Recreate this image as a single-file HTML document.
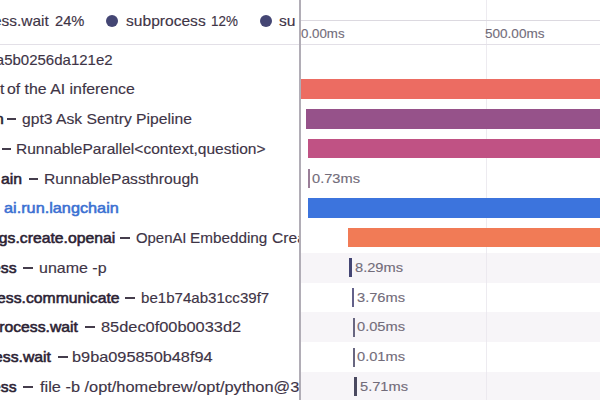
<!DOCTYPE html>
<html><head><meta charset="utf-8">
<style>
html,body{margin:0;padding:0;}
body{width:600px;height:400px;overflow:hidden;background:#fff;position:relative;font-family:"Liberation Sans",sans-serif;}
.a{position:absolute;}
.t{position:absolute;white-space:nowrap;transform-origin:0 50%;}
#left{position:absolute;left:0;top:0;width:299.4px;height:400px;overflow:hidden;}
#leg{position:absolute;left:0;top:0;width:296px;height:44px;overflow:hidden;}
.dash{position:absolute;height:2px;background:#453d4c;}
.bar{position:absolute;height:19.4px;}
.tick{position:absolute;height:19.3px;}
.band{position:absolute;left:301px;width:299px;height:29.75px;background:#f7f5f8;}
</style></head><body>
<div id="left">
<div id="leg">
<div class="t" style="left:-61.93px;top:6.30px;height:29.75px;line-height:29.75px;transform:scaleX(1.0300);font-size:15px;color:#3e3446;-webkit-text-stroke:0.15px #3e3446">subprocess.wait</div>
<div class="t" style="left:55.06px;top:6.30px;height:29.75px;line-height:29.75px;transform:scaleX(0.9809);font-size:15px;color:#3e3446;-webkit-text-stroke:0.15px #3e3446">24%</div>
<div class="t" style="left:125.78px;top:6.30px;height:29.75px;line-height:29.75px;transform:scaleX(1.0389);font-size:15px;color:#3e3446;-webkit-text-stroke:0.15px #3e3446">subprocess</div>
<div class="t" style="left:211.11px;top:6.30px;height:29.75px;line-height:29.75px;transform:scaleX(0.8947);font-size:15px;color:#3e3446;-webkit-text-stroke:0.15px #3e3446">12%</div>
<div class="t" style="left:279.48px;top:6.30px;height:29.75px;line-height:29.75px;transform:scaleX(1.0400);font-size:15px;color:#3e3446;-webkit-text-stroke:0.15px #3e3446">subprocess</div>
<div class="a" style="left:106px;top:14.9px;width:12.4px;height:12.4px;border-radius:50%;background:#444674"></div>
<div class="a" style="left:259.5px;top:14.9px;width:12.4px;height:12.4px;border-radius:50%;background:#444674"></div>
</div>
<div class="a" style="left:0;top:44px;width:300px;height:1px;background:#e3e0e7"></div>
<div class="t" style="left:-86.75px;top:44.50px;height:29.75px;line-height:29.75px;transform:scaleX(1.0000);font-size:15px;color:#3e3446;-webkit-text-stroke:0.15px #3e3446">trace 4c1e9fa5b0256da121e2</div>
<div class="t" style="left:0.08px;top:74.25px;height:29.75px;line-height:29.75px;transform:scaleX(1.0400);font-size:15px;color:#3e3446;-webkit-text-stroke:0.15px #3e3446">t</div>
<div class="t" style="left:7.47px;top:74.25px;height:29.75px;line-height:29.75px;transform:scaleX(1.0564);font-size:15px;color:#3e3446;-webkit-text-stroke:0.15px #3e3446">of the AI inference</div>
<div class="t" style="left:-138.81px;top:104.00px;height:29.75px;line-height:29.75px;transform:scaleX(1.0500);font-size:15px;color:#2b2233;-webkit-text-stroke:0.55px #2b2233">ai.pipeline.langchain</div>
<div class="t" style="left:21.98px;top:104.00px;height:29.75px;line-height:29.75px;transform:scaleX(1.0446);font-size:15px;color:#3e3446;-webkit-text-stroke:0.15px #3e3446">gpt3 Ask Sentry Pipeline</div>
<div class="t" style="left:16.21px;top:133.75px;height:29.75px;line-height:29.75px;transform:scaleX(1.0356);font-size:15px;color:#3e3446;-webkit-text-stroke:0.15px #3e3446">RunnableParallel&lt;context,question&gt;</div>
<div class="t" style="left:1.49px;top:163.50px;height:29.75px;line-height:29.75px;transform:scaleX(1.0500);font-size:15px;color:#2b2233;-webkit-text-stroke:0.55px #2b2233">ain</div>
<div class="t" style="left:43.70px;top:163.50px;height:29.75px;line-height:29.75px;transform:scaleX(1.0427);font-size:15px;color:#3e3446;-webkit-text-stroke:0.15px #3e3446">RunnablePassthrough</div>
<div class="t" style="left:3.66px;top:193.25px;height:29.75px;line-height:29.75px;transform:scaleX(1.0842);font-size:15px;color:#3b70d2;-webkit-text-stroke:0.55px #3b70d2">ai.run.langchain</div>
<div class="t" style="left:-87.40px;top:223.00px;height:29.75px;line-height:29.75px;transform:scaleX(1.0500);font-size:15px;color:#2b2233;-webkit-text-stroke:0.55px #2b2233">ai.embeddings.create.openai</div>
<div class="t" style="left:135.66px;top:223.00px;height:29.75px;line-height:29.75px;transform:scaleX(0.9928);font-size:15px;color:#3e3446;-webkit-text-stroke:0.15px #3e3446">OpenAI</div>
<div class="t" style="left:190.23px;top:223.00px;height:29.75px;line-height:29.75px;transform:scaleX(1.0197);font-size:15px;color:#3e3446;-webkit-text-stroke:0.15px #3e3446">Embedding</div>
<div class="t" style="left:271.82px;top:223.00px;height:29.75px;line-height:29.75px;transform:scaleX(1.0400);font-size:15px;color:#3e3446;-webkit-text-stroke:0.15px #3e3446">Create</div>
<div class="t" style="left:-63.62px;top:252.75px;height:29.75px;line-height:29.75px;transform:scaleX(1.0500);font-size:15px;color:#2b2233;-webkit-text-stroke:0.55px #2b2233">subprocess</div>
<div class="t" style="left:38.93px;top:252.75px;height:29.75px;line-height:29.75px;transform:scaleX(1.0656);font-size:15px;color:#3e3446;-webkit-text-stroke:0.15px #3e3446">uname -p</div>
<div class="t" style="left:-59.04px;top:282.50px;height:29.75px;line-height:29.75px;transform:scaleX(1.0500);font-size:15px;color:#2b2233;-webkit-text-stroke:0.55px #2b2233">subprocess.communicate</div>
<div class="t" style="left:140.70px;top:282.50px;height:29.75px;line-height:29.75px;transform:scaleX(1.0048);font-size:15px;color:#3e3446;-webkit-text-stroke:0.15px #3e3446">be1b74ab31cc39f7</div>
<div class="t" style="left:-34.84px;top:312.25px;height:29.75px;line-height:29.75px;transform:scaleX(1.0500);font-size:15px;color:#2b2233;-webkit-text-stroke:0.55px #2b2233">subprocess.wait</div>
<div class="t" style="left:100.65px;top:312.25px;height:29.75px;line-height:29.75px;transform:scaleX(1.0908);font-size:15px;color:#3e3446;-webkit-text-stroke:0.15px #3e3446">85dec0f00b0033d2</div>
<div class="t" style="left:-62.34px;top:342.00px;height:29.75px;line-height:29.75px;transform:scaleX(1.0500);font-size:15px;color:#2b2233;-webkit-text-stroke:0.55px #2b2233">subprocess.wait</div>
<div class="t" style="left:72.21px;top:342.00px;height:29.75px;line-height:29.75px;transform:scaleX(1.0875);font-size:15px;color:#3e3446;-webkit-text-stroke:0.15px #3e3446">b9ba095850b48f94</div>
<div class="t" style="left:-63.62px;top:371.75px;height:29.75px;line-height:29.75px;transform:scaleX(1.0500);font-size:15px;color:#2b2233;-webkit-text-stroke:0.55px #2b2233">subprocess</div>
<div class="t" style="left:39.73px;top:371.75px;height:29.75px;line-height:29.75px;transform:scaleX(1.0899);font-size:15px;color:#3e3446;-webkit-text-stroke:0.15px #3e3446">file -b /opt/homebrew/opt/python@3</div>
<div class="dash" style="left:6.70px;top:118px;width:9.10px"></div>
<div class="dash" style="left:1.70px;top:148px;width:9.10px"></div>
<div class="dash" style="left:29.20px;top:178px;width:9.10px"></div>
<div class="dash" style="left:120.00px;top:237px;width:10.00px"></div>
<div class="dash" style="left:23.30px;top:267px;width:10.00px"></div>
<div class="dash" style="left:125.00px;top:297px;width:10.00px"></div>
<div class="dash" style="left:85.00px;top:326px;width:9.50px"></div>
<div class="dash" style="left:57.50px;top:356px;width:10.00px"></div>
<div class="dash" style="left:23.30px;top:386px;width:10.00px"></div>
</div>
<div class="band" style="top:252.75px"></div>
<div class="band" style="top:312.25px"></div>
<div class="band" style="top:371.75px"></div>
<div class="a" style="left:485.6px;top:0;width:1px;height:400px;background:#e9e6ec;opacity:0.8"></div>
<div class="a" style="left:299px;top:0;width:2px;height:400px;background:#b1adb6"></div>
<div class="a" style="left:301px;top:20px;width:299px;height:1px;background:#dcd9e0"></div>
<div class="a" style="left:301px;top:44px;width:299px;height:1px;background:#e3e0e7"></div>
<div class="bar" style="left:300.5px;top:79.3px;width:300px;background:#ec6c62"></div>
<div class="bar" style="left:306.2px;top:109.3px;width:300px;background:#96528a"></div>
<div class="bar" style="left:308px;top:139px;width:300px;background:#c05284"></div>
<div class="tick" style="left:308px;top:169px;width:2px;background:#9a7e98"></div>
<div class="bar" style="left:308px;top:198.4px;width:300px;background:#3c74dd"></div>
<div class="bar" style="left:348.3px;top:228px;width:300px;background:#f17b56"></div>
<div class="tick" style="left:348.7px;top:258px;width:3.2px;background:#444674"></div>
<div class="tick" style="left:352px;top:287.8px;width:1.8px;background:#63618a"></div>
<div class="tick" style="left:353.3px;top:317.5px;width:1.8px;background:#686680"></div>
<div class="tick" style="left:353.3px;top:347.5px;width:1.8px;background:#686680"></div>
<div class="tick" style="left:354.2px;top:377.2px;width:2.6px;background:#4a4960"></div>
<div class="t" style="left:300.97px;top:22.80px;height:23.00px;line-height:23.00px;transform:scaleX(1.0625);font-size:12.5px;color:#726c7a;-webkit-text-stroke:0.1px #726c7a">0.00ms</div>
<div class="t" style="left:485.49px;top:22.80px;height:23.00px;line-height:23.00px;transform:scaleX(1.0841);font-size:12.5px;color:#726c7a;-webkit-text-stroke:0.1px #726c7a">500.00ms</div>
<div class="t" style="left:312.46px;top:163.50px;height:29.75px;line-height:29.75px;transform:scaleX(1.0759);font-size:13.6px;color:#726c7a;-webkit-text-stroke:0.12px #726c7a">0.73ms</div>
<div class="t" style="left:355.39px;top:252.75px;height:29.75px;line-height:29.75px;transform:scaleX(1.0775);font-size:13.6px;color:#726c7a;-webkit-text-stroke:0.12px #726c7a">8.29ms</div>
<div class="t" style="left:357.19px;top:282.50px;height:29.75px;line-height:29.75px;transform:scaleX(1.0775);font-size:13.6px;color:#726c7a;-webkit-text-stroke:0.12px #726c7a">3.76ms</div>
<div class="t" style="left:357.16px;top:312.25px;height:29.75px;line-height:29.75px;transform:scaleX(1.0775);font-size:13.6px;color:#726c7a;-webkit-text-stroke:0.12px #726c7a">0.05ms</div>
<div class="t" style="left:357.16px;top:342.00px;height:29.75px;line-height:29.75px;transform:scaleX(1.0775);font-size:13.6px;color:#726c7a;-webkit-text-stroke:0.12px #726c7a">0.01ms</div>
<div class="t" style="left:360.19px;top:371.75px;height:29.75px;line-height:29.75px;transform:scaleX(1.0775);font-size:13.6px;color:#726c7a;-webkit-text-stroke:0.12px #726c7a">5.71ms</div>
</body></html>
